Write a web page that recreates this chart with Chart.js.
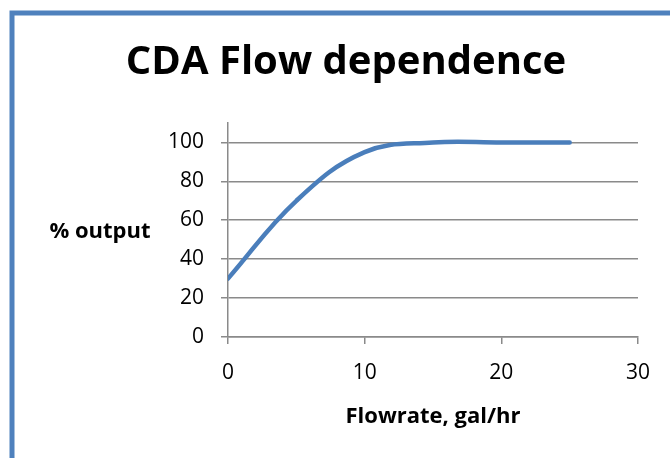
<!DOCTYPE html>
<html>
<head>
<meta charset="utf-8">
<script src="https://cdn.jsdelivr.net/npm/chart.js@4"></script>
<style>
  html, body { margin: 0; padding: 0; background: #fff; }
  canvas { display: block; }
</style>
</head>
<body>
<canvas id="chart" width="670" height="458"></canvas>
<script>
// data
const flowrates = [0, 5, 10, 15, 20, 25];
const outputs = [30, 70, 95, 100, 100, 100];
const xTicks = [0, 10, 20, 30];
const yTicks = [0, 20, 40, 60, 80, 100];

const chartTitle = 'CDA Flow dependence';
const xTitle = 'Flowrate, gal/hr';
const yTitle = '% output';

const gridcolor = '#8a8a8a';
const linecolor = '#4a7ebb';
const framecolor = '#4f81bd';

// frame + horizontal y title (excel style)
const decorations = {
  id: 'decorations',
  beforeDraw: (chart) => {
    const ctx = chart.ctx;
    ctx.save();
    ctx.strokeStyle = framecolor;
    ctx.lineWidth = 5;
    ctx.beginPath();
    ctx.moveTo(12, chart.height + 10);
    ctx.lineTo(12, 13);
    ctx.lineTo(chart.width + 10, 13);
    ctx.stroke();
    ctx.restore();
  },
  afterDraw: (chart) => {
    const ctx = chart.ctx;
    const area = chart.chartArea;
    ctx.save();
    ctx.fillStyle = '#000';
    ctx.font = 'bold 22px "Open Sans"';
    ctx.textAlign = 'center';
    ctx.textBaseline = 'alphabetic';
    ctx.fillText(yTitle, 100, (area.top + area.bottom) / 2 + 8);
    ctx.restore();
  },
};

new Chart(document.getElementById('chart'), {
  type: 'line',
  data: {
    datasets: [{
      data: flowrates.map((x, i) => ({ x: x, y: outputs[i] })),
      borderColor: linecolor,
      borderWidth: 4.5,
      borderCapStyle: 'round',
      pointRadius: 0,
      tension: 0.4,
      fill: false,
    }],
  },
  options: {
    responsive: false,
    animation: false,
    layout: {
      padding: { left: 54, right: 32, top: 0, bottom: 24.5 },
    },
    plugins: {
      legend: { display: false },
      tooltip: { enabled: false },
      title: {
        display: true,
        text: chartTitle,
        color: '#000',
        font: { family: 'Open Sans', size: 40, weight: 'bold' },
        padding: { top: 39, bottom: 36 },
      },
    },
    scales: {
      x: {
        type: 'linear',
        min: 0,
        max: 30,
        afterBuildTicks: (scale) => {
          scale.ticks = xTicks.map((v) => ({ value: v }));
        },
        ticks: {
          color: '#000',
          font: { family: 'Open Sans', size: 21 },
          padding: 17,
        },
        grid: {
          drawOnChartArea: false,
          drawTicks: true,
          tickLength: 7,
          color: gridcolor,
          lineWidth: 1.5,
        },
        border: { color: gridcolor, width: 1.5 },
        title: {
          display: true,
          text: xTitle,
          color: '#000',
          font: { family: 'Open Sans', size: 22, weight: 'bold' },
          padding: { top: 0, bottom: 4 },
        },
      },
      y: {
        type: 'linear',
        min: 0,
        max: 110,
        afterBuildTicks: (scale) => {
          scale.ticks = yTicks.concat([110]).map((v) => ({ value: v }));
        },
        afterFit: (scale) => {
          scale.width = 174;
        },
        ticks: {
          color: '#000',
          font: { family: 'Open Sans', size: 21 },
          padding: 17,
          callback: (value) => (yTicks.includes(value) ? value : ''),
        },
        grid: {
          drawTicks: true,
          tickLength: 7,
          lineWidth: 1.5,
          color: (c) => (c.tick && yTicks.includes(c.tick.value) ? gridcolor : 'rgba(0,0,0,0)'),
        },
        border: { color: gridcolor, width: 1.5 },
      },
    },
  },
  plugins: [decorations],
});
</script>
</body>
</html>
